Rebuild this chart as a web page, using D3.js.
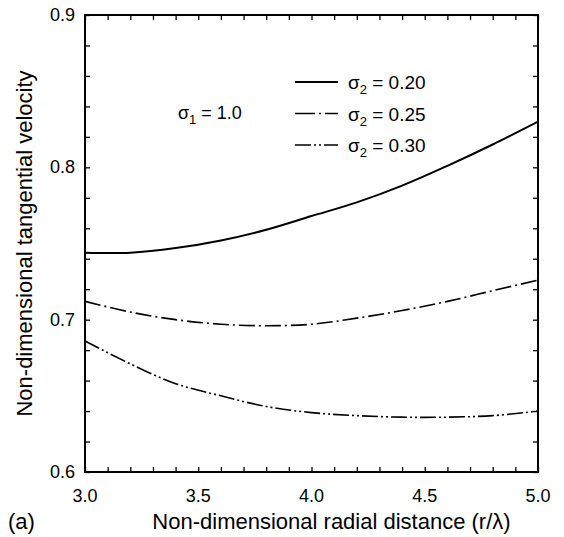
<!DOCTYPE html>
<html>
<head>
<meta charset="utf-8">
<script src="https://cdn.jsdelivr.net/npm/d3@7"></script>
<style>
  body { margin: 0; background: #fff; }
  svg text { font-family: "Liberation Sans", Arial, Helvetica, sans-serif; fill: #000; }
</style>
</head>
<body>
<div id="chart"></div>
<script>
// radial distance r/lambda
const radialDistance = [3.0, 3.2, 3.4, 3.6, 3.8, 4.0, 4.2, 4.4, 4.6, 4.8, 5.0];
// tangential velocity for sigma1 = 1.0
const sigma020 = [0.744, 0.744, 0.747, 0.752, 0.759, 0.768, 0.777, 0.788, 0.801, 0.815, 0.830];
const sigma025 = [0.712, 0.705, 0.700, 0.697, 0.696, 0.697, 0.701, 0.706, 0.712, 0.719, 0.726];
const sigma030 = [0.686, 0.671, 0.658, 0.650, 0.643, 0.639, 0.637, 0.636, 0.636, 0.637, 0.640];
const seriesLabels = ["0.20", "0.25", "0.30"];
const xTickLabels = ["3.0", "3.5", "4.0", "4.5", "5.0"];
const yTickLabels = ["0.6", "0.7", "0.8", "0.9"];

const margin = {top: 15, right: 26, bottom: 65, left: 85};
const width = 564 - margin.left - margin.right,
      height = 537 - margin.top - margin.bottom;

const svg = d3.select("#chart").append("svg")
    .attr("width", 564)
    .attr("height", 537);

const g = svg.append("g")
    .attr("transform", "translate(" + margin.left + "," + margin.top + ")");

const x = d3.scaleLinear().domain([3.0, 5.0]).range([0, width]);
const y = d3.scaleLinear().domain([0.6, 0.9]).range([height, 0]);

const xMinor = d3.range(30, 51).map(d => d / 10);
const yMinor = d3.range(30, 46).map(d => d / 50);

// inward ticks on all four sides
const tickLen = 5;
function noLabels(axis) { return axis.tickFormat("").tickSizeOuter(0); }
g.append("g").attr("transform", "translate(0," + height + ")")
    .call(noLabels(d3.axisTop(x).tickValues(xMinor).tickSizeInner(tickLen)));
g.append("g")
    .call(noLabels(d3.axisBottom(x).tickValues(xMinor).tickSizeInner(tickLen)));
g.append("g")
    .call(noLabels(d3.axisRight(y).tickValues(yMinor).tickSizeInner(tickLen)));
g.append("g").attr("transform", "translate(" + width + ",0)")
    .call(noLabels(d3.axisLeft(y).tickValues(yMinor).tickSizeInner(tickLen)));
g.selectAll(".domain").remove();
g.selectAll(".tick line").attr("stroke", "#000").attr("stroke-width", 1.3);

// frame
g.append("rect")
    .attr("width", width).attr("height", height)
    .attr("fill", "none").attr("stroke", "#000").attr("stroke-width", 2);

// tick labels
g.selectAll(".xlab").data(xTickLabels).enter().append("text")
    .attr("x", d => x(+d)).attr("y", height + 30)
    .attr("text-anchor", "middle").attr("font-size", 18)
    .text(d => d);
g.selectAll(".ylab").data(yTickLabels).enter().append("text")
    .attr("x", -10).attr("y", d => y(+d) + 6)
    .attr("text-anchor", "end").attr("font-size", 18)
    .text(d => d);

// axis titles
g.append("text")
    .attr("x", width / 2 + 20).attr("y", height + 57)
    .attr("text-anchor", "middle").attr("font-size", 22)
    .text("Non-dimensional radial distance (r/\u03bb)");
svg.append("text")
    .attr("x", 8).attr("y", 537 - 8)
    .attr("font-size", 22)
    .text("(a)");
svg.append("text")
    .attr("transform", "translate(32," + (margin.top + height / 2) + ") rotate(-90)")
    .attr("text-anchor", "middle").attr("font-size", 22)
    .text("Non-dimensional tangential velocity");

// curves
const dashes = [null, "16,4,2,4", "16,3,2,3,2,3"];
const series = [sigma020, sigma025, sigma030];
const line = d3.line()
    .x(d => x(d[0]))
    .y(d => y(d[1]))
    .curve(d3.curveCatmullRom.alpha(0.5));

series.forEach((s, i) => {
    g.append("path")
        .datum(radialDistance.map((r, j) => [r, s[j]]))
        .attr("fill", "none")
        .attr("stroke", "#000")
        .attr("stroke-width", i === 0 ? 2 : 1.6)
        .attr("stroke-dasharray", dashes[i])
        .attr("d", line);
});

// legend
const legend = g.append("g").attr("transform", "translate(210,67)");
seriesLabels.forEach((lab, i) => {
    const row = legend.append("g").attr("transform", "translate(0," + (i * 31.5) + ")");
    row.append("line")
        .attr("x1", 0).attr("x2", 43).attr("y1", 0).attr("y2", 0)
        .attr("stroke", "#000")
        .attr("stroke-width", i === 0 ? 2 : 1.6)
        .attr("stroke-dasharray", i === 0 ? null : (i === 1 ? "20,4,2,4" : "16,3,2,3,2,3"));
    const t = row.append("text").attr("x", 53).attr("y", 7).attr("font-size", 19);
    t.append("tspan").text("\u03c3");
    t.append("tspan").attr("font-size", 13).attr("dy", 5).text("2");
    t.append("tspan").attr("dy", -5).text(" = " + lab);
});

// sigma1 annotation
const s1 = g.append("text").attr("x", 93).attr("y", 104).attr("font-size", 18);
s1.append("tspan").text("\u03c3");
s1.append("tspan").attr("font-size", 13).attr("dy", 5).text("1");
s1.append("tspan").attr("dy", -5).text(" = 1.0");
</script>
</body>
</html>
